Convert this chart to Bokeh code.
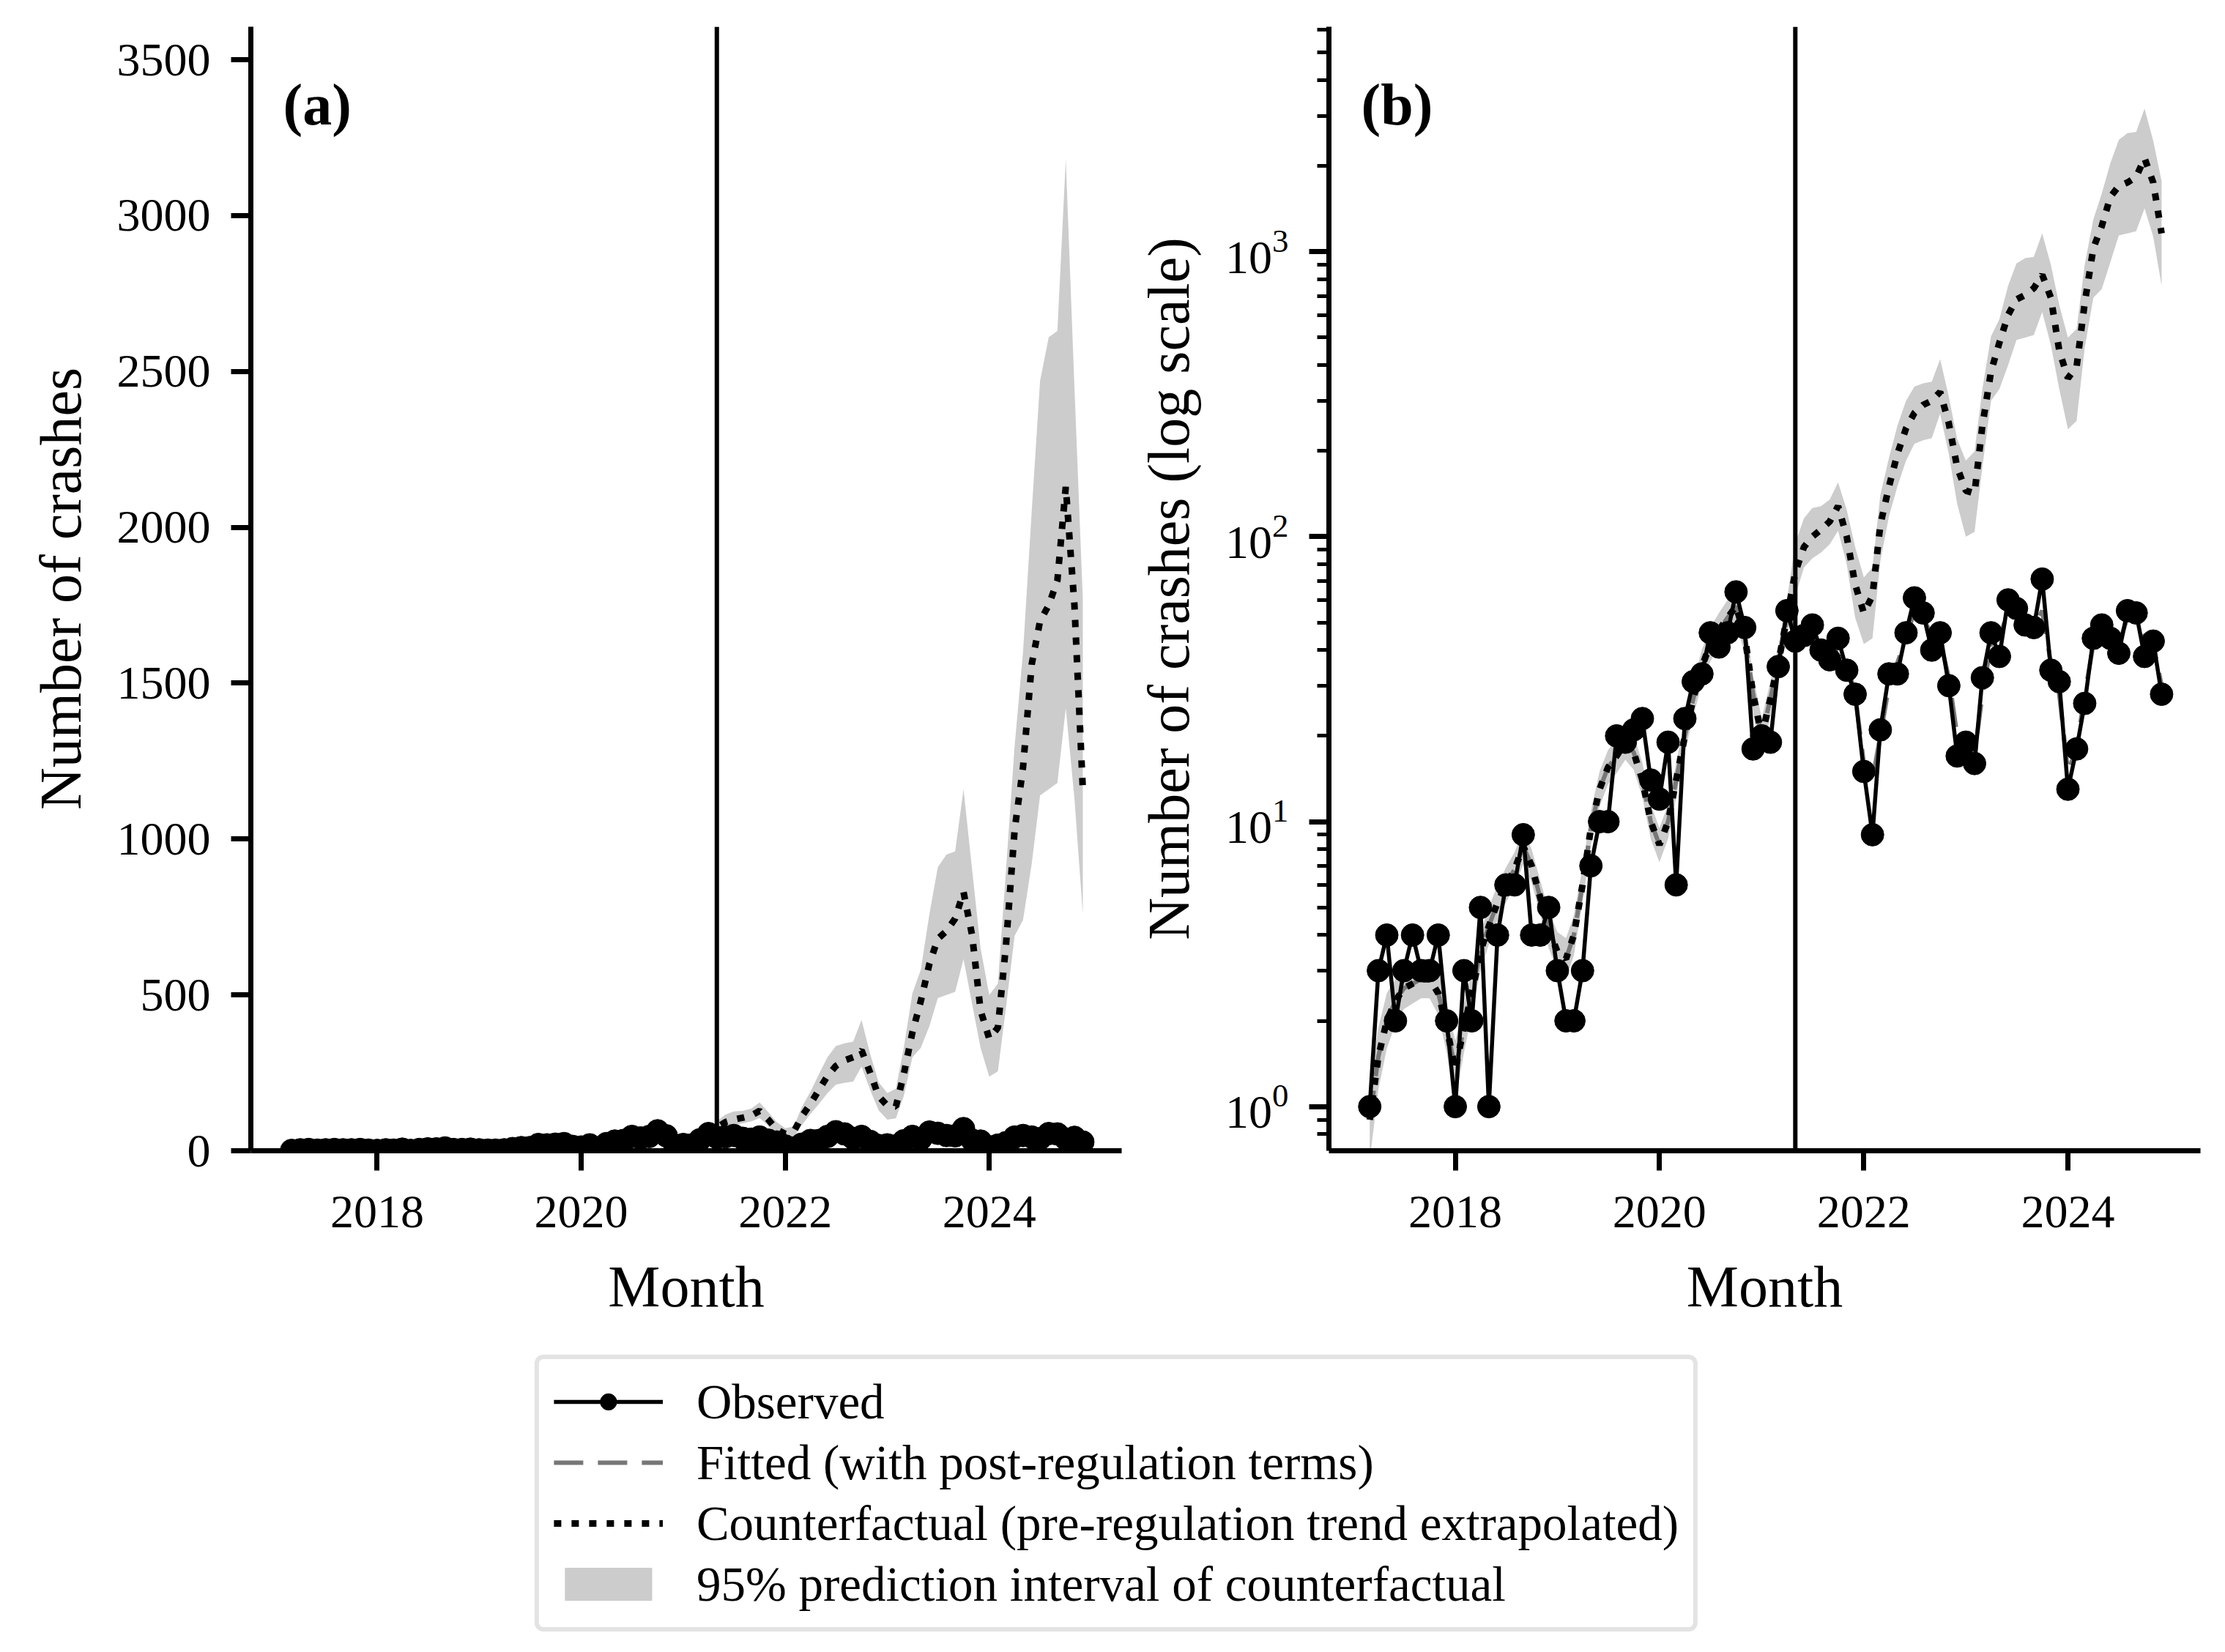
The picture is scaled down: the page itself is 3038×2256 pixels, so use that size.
from datetime import datetime

import pandas as pd
from bokeh.embed import file_html
from bokeh.layouts import column, row
from bokeh.models import (ColumnDataSource, DatetimeTickFormatter, FixedTicker, Label,
                          Legend, LegendItem, LogTickFormatter, Range1d, Span)
from bokeh.plotting import figure
from bokeh.resources import INLINE

# monthly counts, Mar 2017 - Dec 2024
months = pd.date_range("2017-03-01", "2024-12-01", freq="MS")

observed = [1, 3, 4, 2, 3, 4, 3, 3, 4, 2,
            1, 3, 2, 5, 1, 4, 6, 6, 9, 4,
            4, 5, 3, 2, 2, 3, 7, 10, 10, 20,
            19, 21, 23, 14, 12, 19, 6, 23, 31, 33,
            46, 41, 46, 64, 48, 18, 20, 19, 35, 55,
            43, 45, 49, 40, 37, 44, 34, 28, 15, 9,
            21, 33, 33, 46, 61, 54, 40, 46, 30, 17,
            19, 16, 32, 46, 38, 60, 56, 49, 48, 71,
            34, 31, 13, 18, 26, 44, 49, 44, 39, 55,
            54, 38, 43, 28]

fitted_pre = [0.9, 1.5, 2.0, 2.35, 2.6, 2.7, 2.8, 2.8, 2.5, 1.9,
              1.35, 1.9, 2.5, 3.5, 4.3, 5.2, 6.0, 6.8, 8.2, 7.0,
              5.4, 4.2, 3.5, 3.3, 4.0, 6.0, 9.5, 13, 15.5, 17,
              19, 17.5, 14, 10, 8.3, 10, 14, 20, 27, 35,
              42, 47, 52, 57, 45, 28, 20, 27, 36, 52]

fitted_post = [48, 47, 45, 42, 40, 40, 36, 28, 16, 14,
               20, 30, 36, 44, 55, 52, 45, 43, 32, 20,
               18, 17, 28, 42, 44, 55, 55, 50, 48, 55,
               36, 28, 15, 18, 28, 42, 48, 45, 42, 52,
               52, 45, 42, 30]

counterfactual_post = [75, 92, 100, 106, 113, 128, 100, 68, 54, 62,
                       110, 150, 195, 240, 272, 290, 300, 322, 250, 175,
                       145, 142, 245, 380, 480, 600, 680, 705, 745, 830,
                       690, 450, 360, 395, 660, 1030, 1230, 1560, 1700, 1750,
                       1830, 2130, 1750, 1160]

pi_lower = [0.65, 1.15, 1.6, 1.95, 2.2, 2.3, 2.4, 2.4, 2.1, 1.55,
            1.05, 1.55, 2.1, 3.0, 3.7, 4.5, 5.2, 5.9, 7.1, 6.1,
            4.7, 3.6, 3.0, 2.8, 3.4, 5.2, 8.3, 11.3, 13.5, 14.8,
            16.5, 15.2, 12.2, 8.7, 7.2, 8.7, 12.2, 17.4, 23.5, 30.4,
            36.5, 41, 45, 49.5, 39, 24, 17.4, 23.5, 31.3, 45,
            62, 78, 84, 88, 94, 105, 80, 52, 42, 44,
            82, 118, 150, 185, 212, 218, 222, 270, 195, 130,
            100, 104, 175, 300, 330, 400, 490, 500, 510, 615,
            470, 330, 238, 255, 460, 690, 740, 920, 1140, 1160,
            1180, 1420, 1130, 760]

pi_upper = [1.2, 1.9, 2.5, 2.8, 3.1, 3.2, 3.3, 3.3, 3.0, 2.3,
            1.7, 2.3, 3.0, 4.1, 5.0, 6.0, 6.9, 7.8, 9.4, 8.0,
            6.2, 4.9, 4.1, 3.9, 4.7, 6.9, 10.9, 15, 17.8, 19.5,
            21.8, 20.1, 16.1, 11.5, 9.5, 11.5, 16.1, 23, 31, 40.2,
            48, 54, 60, 65.5, 52, 32.5, 23, 31, 41.4, 60,
            95, 116, 126, 128, 135, 155, 124, 92, 72, 78,
            140, 189, 245, 300, 336, 345, 350, 420, 310, 220,
            185, 199, 330, 505, 580, 760, 910, 950, 960, 1160,
            900, 650, 500, 536, 900, 1300, 1600, 2050, 2470, 2610,
            2630, 3180, 2450, 1770]

regulation_date = datetime(2021, 5, 1)
year_ticks = [2018, 2020, 2022, 2024]
linear_ticks = [0, 500, 1000, 1500, 2000, 2500, 3000, 3500]
log_ticks = [1, 10, 100, 1000]
log_minor = [0.8, 0.9] + [m * 10 ** e for e in range(0, 3) for m in range(2, 10)] + [2000, 3000, 4000, 5000, 6000]

FONT = "Liberation Serif"
GREY_BAND = "#cccccc"
GREY_FIT = "#777777"

OBS_LW, OBS_SIZE = 5.5, 31
FIT_LW, FIT_DASH = 6, "40 20"
CF_LW, CF_DASH = 9, "10 14"

source = ColumnDataSource(data={
    'month': months,
    'observed': observed,
    'fitted': fitted_pre + fitted_post,
    'counterfactual': fitted_pre + counterfactual_post,
    'lower': pi_lower,
    'upper': pi_upper,
})


def style_axes(p):
    for ax in p.axis:
        ax.axis_line_width = 7
        ax.major_tick_line_width = 7
        ax.major_tick_out = 27
        ax.major_tick_in = 0
        ax.minor_tick_line_width = 5
        ax.minor_tick_out = 16
        ax.minor_tick_in = 0
        ax.major_label_text_font = FONT
        ax.major_label_text_font_size = "64px"
        ax.major_label_text_color = "black"
        ax.axis_label_text_font = FONT
        ax.axis_label_text_font_size = "80px"
        ax.axis_label_text_font_style = "normal"
        ax.axis_label_text_color = "black"


def make_panel(tag, y_type, y_range, y_label, width, left, right):
    p = figure(width=width, height=1821, x_axis_type="datetime", y_axis_type=y_type,
               x_range=Range1d(datetime(2016, 10, 6), datetime(2025, 4, 19)),
               y_range=y_range, x_axis_label="Month", y_axis_label=y_label,
               output_backend="svg", toolbar_location=None,
               min_border_left=left, min_border_right=right,
               min_border_top=36, min_border_bottom=250)
    p.outline_line_color = None
    p.grid.visible = False

    p.varea(x='month', y1='lower', y2='upper', source=source, fill_color=GREY_BAND)
    p.line(x='month', y='fitted', source=source, line_color=GREY_FIT, line_width=FIT_LW, line_dash=FIT_DASH)
    p.line(x='month', y='counterfactual', source=source, line_color="black", line_width=CF_LW, line_dash=CF_DASH)
    p.line(x='month', y='observed', source=source, line_color="black", line_width=OBS_LW)
    p.scatter(x='month', y='observed', source=source, size=OBS_SIZE, color="black")
    p.add_layout(Span(location=regulation_date, dimension="height", line_color="black", line_width=6))

    style_axes(p)
    p.xaxis.ticker = FixedTicker(ticks=[pd.Timestamp(f"{y}-01-01").value // 10**6 for y in year_ticks])
    p.xaxis.formatter = DatetimeTickFormatter(years="%Y", months="%Y", days="%Y")
    p.xaxis.minor_tick_line_color = None
    p.xaxis.major_label_standoff = 35
    p.xaxis.axis_label_standoff = 34
    p.yaxis.major_label_standoff = 28
    p.yaxis.axis_label_standoff = 30

    p.add_layout(Label(x=44, y=1473, x_units="screen", y_units="screen", text=tag,
                       text_font=FONT, text_font_size="80px", text_font_style="bold",
                       text_color="black", text_baseline="top"))
    return p


pa = make_panel("(a)", "linear", Range1d(0, 3606), "Number of crashes", 1548, 342, 17)
pa.yaxis.ticker = FixedTicker(ticks=linear_ticks)

pb = make_panel("(b)", "log", Range1d(0.70, 6160), "Number of crashes (log scale)", 1474, 266, 18)
pb.yaxis.ticker = FixedTicker(ticks=log_ticks, minor_ticks=log_minor)
pb.yaxis.formatter = LogTickFormatter()

# legend lives in its own strip under both panels; its renderers hold a single NaN point
lg = figure(width=3022, height=419, x_range=Range1d(0, 1), y_range=Range1d(0, 1),
            x_axis_location=None, y_axis_location=None, min_border=0,
            min_border_top=16, min_border_left=26,
            output_backend="svg", toolbar_location=None)
lg.outline_line_color = None
lg.grid.visible = False
nan = float("nan")
dummy = ColumnDataSource(data={'x': [nan], 'y': [nan], 'y2': [nan]})
r_line = lg.line(x='x', y='y', source=dummy, line_color="black", line_width=OBS_LW)
r_dot = lg.scatter(x='x', y='y', source=dummy, size=OBS_SIZE, color="black")
r_fit = lg.line(x='x', y='y', source=dummy, line_color=GREY_FIT, line_width=FIT_LW, line_dash=FIT_DASH)
r_cf = lg.line(x='x', y='y', source=dummy, line_color="black", line_width=CF_LW, line_dash=CF_DASH)
r_band = lg.varea(x='x', y1='y', y2='y2', source=dummy, fill_color=GREY_BAND)

legend = Legend(items=[
    LegendItem(label="Observed", renderers=[r_line, r_dot]),
    LegendItem(label="Fitted (with post-regulation terms)", renderers=[r_fit]),
    LegendItem(label="Counterfactual (pre-regulation trend extrapolated)", renderers=[r_cf]),
    LegendItem(label="95% prediction interval of counterfactual", renderers=[r_band]),
], location="center")
legend.label_text_font = FONT
legend.label_text_font_size = "67px"
legend.label_text_color = "black"
legend.glyph_width = 149
legend.glyph_height = 56
legend.label_standoff = 46
legend.spacing = 6
legend.padding = 20
legend.margin = 0
legend.border_line_color = "#c8c8c8"
legend.border_line_width = 6
if "border_radius" in Legend.properties():
    legend.border_radius = 12
lg.add_layout(legend, "center")

layout = column(row(pa, pb), lg)
open("out.html", "w").write(file_html(layout, INLINE))
